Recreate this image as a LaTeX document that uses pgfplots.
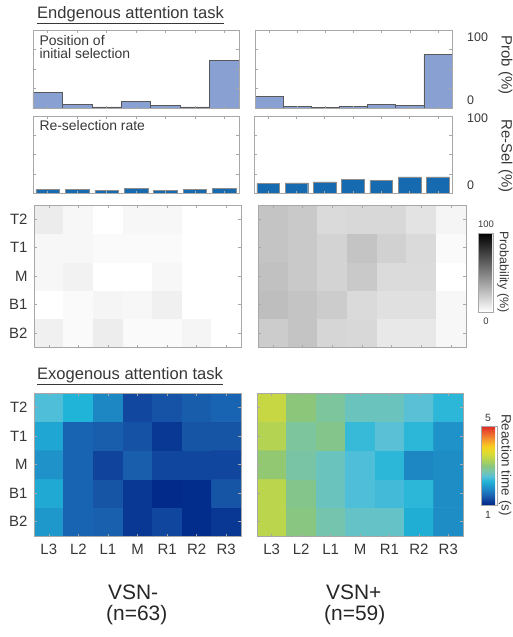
\documentclass[border=0pt]{standalone}
\usepackage{pgfplots}
\pgfplotsset{compat=1.18}
\usepackage{fontspec}
\setmainfont{Liberation Sans}
\definecolor{histfill}{RGB}{136,161,210}
\definecolor{resel}{RGB}{22,106,176}
\definecolor{frame}{RGB}{168,168,168}
\definecolor{txt}{RGB}{55,55,55}
\newcommand{\fs}[1]{\fontsize{#1}{#1}\selectfont}
\pgfplotsset{
  panel/.style={scale only axis, anchor=north west, axis on top,
    axis line style={frame, line width=0.8bp}, tick style={frame, line width=0.5bp},
    major tick length=2.5bp, tick align=inside,
    xmin=0.5, xmax=7.5, xtick={1,...,7},
    ticklabel style={font=\fs{15}, text=txt},
    xticklabel style={yshift=-5bp}, yticklabel style={xshift=-3bp},
    xticklabels=\empty, yticklabels=\empty},
  hist/.style={panel, ymin=0, ymax=100, ytick={25,50,75}},
  grayheat/.style={panel, ymin=0.5, ymax=5.5, ytick={1,...,5},
    colormap={graymap}{gray(0cm)=(1); gray(1cm)=(0)},
    point meta min=0, point meta max=100},
  rtheat/.style={panel, ymin=0.5, ymax=5.5, ytick={1,...,5},
    colormap={rtmap}{rgb255(0cm)=(0,40,138); rgb255(5cm)=(12,60,152); rgb255(10cm)=(24,88,168);
      rgb255(14cm)=(26,108,184); rgb255(22cm)=(30,144,200); rgb255(30cm)=(32,180,216);
      rgb255(36cm)=(88,192,216); rgb255(42cm)=(116,196,176); rgb255(50cm)=(140,198,122);
      rgb255(58cm)=(184,212,80); rgb255(66cm)=(220,220,48); rgb255(74cm)=(248,208,32);
      rgb255(84cm)=(244,144,48); rgb255(100cm)=(224,40,40)},
    point meta min=1, point meta max=5},
}
\begin{document}
\begin{tikzpicture}
\path[use as bounding box] (0,0) rectangle (513bp,-637bp);

% ---------- titles ----------
\node[anchor=base west, font=\fs{16.6}, text=txt, inner sep=0pt] at (37bp,-18.5bp) {\underline{Endgenous attention task}};
\node[anchor=base west, font=\fs{16.6}, text=txt, inner sep=0pt] at (37bp,-379bp) {\underline{Exogenous attention task}};

% ---------- position of initial selection ----------
\begin{axis}[hist, at={(33bp,-30bp)}, width=206bp, height=78bp]
\addplot[ybar, bar width=1, fill=histfill, draw=black!65, line width=0.6bp]
  coordinates {(1,20) (2,4.5) (3,1.5) (4,8) (5,3.5) (6,1.5) (7,61)};
\end{axis}
\begin{axis}[hist, at={(255bp,-30bp)}, width=197bp, height=78bp]
\addplot[ybar, bar width=1, fill=histfill, draw=black!65, line width=0.6bp]
  coordinates {(1,15) (2,2.5) (3,1) (4,2.5) (5,4.5) (6,3) (7,68.5)};
\end{axis}

% ---------- re-selection rate ----------
\begin{axis}[hist, at={(33bp,-116bp)}, width=206bp, height=77bp]
\addplot[ybar, bar width=0.8, fill=resel, draw=black!45, line width=0.4bp]
  coordinates {(1,4.3) (2,4.8) (3,3.5) (4,6) (5,3) (6,4.8) (7,5.6)};
\end{axis}
\begin{axis}[hist, at={(254bp,-116bp)}, width=198bp, height=77bp]
\addplot[ybar, bar width=0.8, fill=resel, draw=black!45, line width=0.4bp]
  coordinates {(1,12.5) (2,13) (3,14.3) (4,17.3) (5,16.5) (6,20.8) (7,20.8)};
\end{axis}

\node[anchor=base west, font=\fs{14}, text=txt] at (36bp,-45bp) {Position of};
\node[anchor=base west, font=\fs{14}, text=txt] at (36bp,-58bp) {initial selection};
\node[anchor=base west, font=\fs{14}, text=txt] at (36bp,-130bp) {Re-selection rate};
\node[anchor=west, font=\fs{12.5}, text=txt, inner sep=0pt] at (467bp,-37.7bp) {100};
\node[anchor=west, font=\fs{12.5}, text=txt, inner sep=0pt] at (467bp,-100bp) {0};
\node[anchor=west, font=\fs{12.5}, text=txt, inner sep=0pt] at (467bp,-118bp) {100};
\node[anchor=west, font=\fs{12.5}, text=txt, inner sep=0pt] at (467bp,-185bp) {0};
\node[rotate=-90, font=\fs{15}, text=txt, inner sep=0pt] at (505.5bp,-65bp) {Prob (\%)};
\node[rotate=-90, font=\fs{15}, text=txt, inner sep=0pt] at (505.5bp,-156bp) {Re-Sel (\%)};

% ---------- probability heatmaps ----------
\begin{axis}[grayheat, at={(34bp,-205bp)}, width=207bp, height=142bp,
  yticklabels={B2,B1,M,T1,T2}]
\addplot[matrix plot*, mesh/cols=7, point meta=explicit] table[meta=c] {
x y c
1 1 6
2 1 2
3 1 7
4 1 2
5 1 2
6 1 4
7 1 0
1 2 0
2 2 2
3 2 4
4 2 3
5 2 6
6 2 0
7 2 0
1 3 3
2 3 5
3 3 0
4 3 0
5 3 3
6 3 0
7 3 0
1 4 3
2 4 3
3 4 2
4 4 2
5 4 2
6 4 0
7 4 0
1 5 7.5
2 5 3
3 5 0
4 5 3
5 5 3
6 5 0
7 5 0
};
\end{axis}
\begin{axis}[grayheat, at={(258bp,-205bp)}, width=208bp, height=142bp,
  colorbar, colorbar style={at={(parent axis.north east)}, anchor=north west,
    xshift=3.5bp, yshift=-28bp, scale only axis, width=15bp, height=79bp,
    ytick=\empty, axis line style={frame}}]
\addplot[matrix plot*, mesh/cols=7, point meta=explicit] table[meta=c] {
x y c
1 1 20
2 1 23
3 1 16
4 1 15
5 1 9
6 1 9
7 1 3
1 2 25.5
2 2 23
3 2 20
4 2 14.5
5 2 12
6 2 12
7 2 3
1 3 24
2 3 21
3 3 17
4 3 21
5 3 14
6 3 14
7 3 0
1 4 23
2 4 21
3 4 17
4 4 23
5 4 18
6 4 14.5
7 4 2
1 5 23
2 5 21
3 5 14.5
4 5 15
5 5 15
6 5 11
7 5 4
};
\end{axis}
\node[font=\fs{9.5}, text=txt] at (486bp,-224bp) {100};
\node[font=\fs{9.5}, text=txt] at (486bp,-321bp) {0};
\node[rotate=-90, font=\fs{12.5}, text=txt, inner sep=0pt] at (503bp,-272bp) {Probability (\%)};

% ---------- reaction time heatmaps ----------
\begin{axis}[rtheat, at={(34bp,-393bp)}, width=207bp, height=143bp,
  yticklabels={B2,B1,M,T1,T2}, xticklabels={L3,L2,L1,M,R1,R2,R3}]
\addplot[matrix plot*, mesh/cols=7, point meta=explicit] table[meta=c] {
x y c
1 1 1.95
2 1 1.5
3 1 1.47
4 1 1.15
5 1 1.27
6 1 1.05
7 1 1.15
1 2 2.1
2 2 1.5
3 2 1.37
4 2 1.15
5 2 1.02
6 2 1.05
7 2 1.37
1 3 1.9
2 3 1.5
3 3 1.25
4 3 1.45
5 3 1.27
6 3 1.27
7 3 1.27
1 4 2.08
2 4 1.5
3 4 1.45
4 4 1.35
5 4 1.15
6 4 1.37
7 4 1.37
1 5 2.4
2 5 2.2
3 5 1.8
4 5 1.28
5 5 1.36
6 5 1.44
7 5 1.5
};
\end{axis}
\begin{axis}[rtheat, at={(257bp,-393bp)}, width=206bp, height=143bp,
  xticklabels={L3,L2,L1,M,R1,R2,R3},
  colorbar, colorbar style={at={(parent axis.north east)}, anchor=north west,
    xshift=9.5bp, yshift=-33bp, scale only axis, width=16bp, height=79bp,
    ytick=\empty, axis line style={frame}}]
\addplot[matrix plot*, mesh/cols=7, point meta=explicit] table[meta=c] {
x y c
1 1 3.35
2 1 2.95
3 1 2.7
4 1 2.55
5 1 2.55
6 1 2.15
7 1 1.85
1 2 3.35
2 2 2.9
3 2 2.6
4 2 2.4
5 2 2.35
6 2 2.25
7 2 1.85
1 3 3.05
2 3 2.75
3 3 2.6
4 3 2.4
5 3 2.25
6 3 1.8
7 3 1.85
1 4 3.3
2 4 2.8
3 4 2.9
4 4 2.3
5 4 2.45
6 4 2.25
7 4 1.9
1 5 3.45
2 5 3.0
3 5 2.8
4 5 2.6
5 5 2.6
6 5 2.45
7 5 2.25
};
\end{axis}
\node[font=\fs{10.5}, text=txt] at (488bp,-418bp) {5};
\node[font=\fs{10.5}, text=txt] at (488bp,-515bp) {1};
\node[rotate=-90, font=\fs{13.5}, text=txt, inner sep=0pt] at (505bp,-465bp) {Reaction time (s)};

% ---------- group labels ----------
\node[anchor=north west, align=left, font=\fontsize{21}{21}\selectfont, text=black!85, inner sep=0pt] at (106bp,-585bp) {\hspace*{2bp}VSN-\\(n=63)};
\node[anchor=north west, align=left, font=\fontsize{21}{21}\selectfont, text=black!85, inner sep=0pt] at (324bp,-585bp) {\hspace*{2bp}VSN+\\(n=59)};
\end{tikzpicture}
\end{document}
